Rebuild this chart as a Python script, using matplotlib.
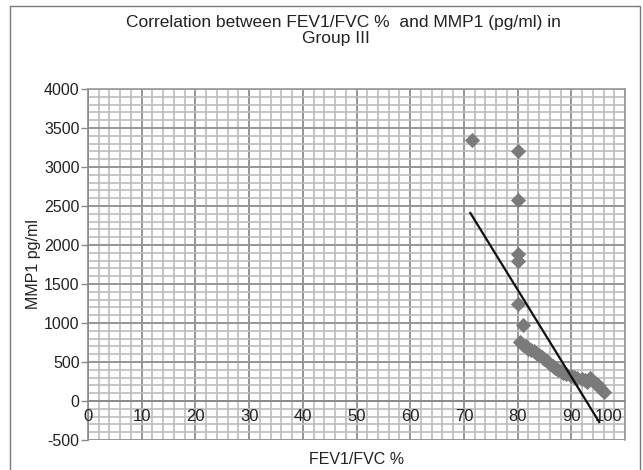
import matplotlib
matplotlib.use("Agg")
import matplotlib.pyplot as plt
from matplotlib.patches import Rectangle
from matplotlib.ticker import MultipleLocator
from matplotlib.transforms import offset_copy

plt.rcParams['font.family'] = ['Liberation Sans', 'DejaVu Sans']

# Data
fev = [71.5, 80, 80, 80, 80, 80, 81, 80.5, 81, 81.5, 82, 82.5, 83, 83.5, 84,
       84.5, 85, 85.5, 86, 86.5, 87, 87.5, 88, 88.5, 89, 90, 90.5, 91, 92,
       92.5, 93, 93.5, 94, 94.5, 95, 95.5, 96]
mmp = [3350, 3200, 2580, 1880, 1800, 1250, 980, 760, 720, 700, 670, 650, 640,
       610, 590, 570, 540, 510, 480, 450, 420, 400, 380, 360, 350, 320, 310,
       290, 280, 270, 250, 300, 260, 230, 200, 160, 120]
trend_x = [71.2, 95.2]
trend_y = [2410, -270]
x_ticks = [0, 10, 20, 30, 40, 50, 60, 70, 80, 90, 100]
y_ticks = [-500, 0, 500, 1000, 1500, 2000, 2500, 3000, 3500, 4000]

W, H = 643, 470
fig = plt.figure(figsize=(W / 100, H / 100), dpi=100)
fig.patch.set_facecolor('white')

# outer chart frame
fig.patches.append(Rectangle((10 / W, -0.02), 630 / W, (H - 6) / H + 0.02,
                             transform=fig.transFigure, fill=False,
                             edgecolor='#7a7a7a', linewidth=1.0))

left, right, top, bottom = 88 / W, 625 / W, 1 - 89 / H, 1 - 440 / H
ax = fig.add_axes([left, bottom, right - left, top - bottom])
ax.set_xlim(0, 100)
ax.set_ylim(-500, 4000)

ax.xaxis.set_major_locator(MultipleLocator(10))
ax.xaxis.set_minor_locator(MultipleLocator(2))
ax.yaxis.set_major_locator(MultipleLocator(500))
ax.yaxis.set_minor_locator(MultipleLocator(100))
ax.grid(which='minor', color='#bcbcbc', linewidth=1.2)
ax.grid(which='major', color='#969696', linewidth=1.4)
ax.set_axisbelow(True)

ax.scatter(fev, mmp, marker='D', s=60, color='#7a7a7a', zorder=3,
           linewidths=0)
ax.plot(trend_x, trend_y, color='#111111', linewidth=1.6, zorder=4)

# spines
ax.spines['bottom'].set_position(('data', 0))
ax.spines['bottom'].set_color('#8a8a8a')
ax.spines['left'].set_color('#8a8a8a')
ax.spines['top'].set_color('#9a9a9a')
ax.spines['right'].set_color('#9a9a9a')
for s in ax.spines.values():
    s.set_linewidth(1.2)

ax.set_yticks(y_ticks)
ax.set_yticklabels([str(v) for v in y_ticks])
ax.set_xticks(x_ticks)
ax.set_xticklabels([])
ax.tick_params(axis='y', which='major', length=5, width=1.0, color='#8a8a8a',
               labelsize=11.5, pad=1, labelcolor='#222222')
ax.tick_params(axis='x', which='major', length=0)
ax.tick_params(which='minor', length=0)

# x tick labels drawn on top of the grid, just under the zero line
lab_tr = offset_copy(ax.transData, fig=fig, x=0, y=-5.5, units='points')
for v in x_ticks:
    ha = 'right' if v == x_ticks[-1] else 'center'
    dx = -2 if v == x_ticks[-1] else 0
    ax.text(v, 0, str(v), ha=ha, va='top', fontsize=12, color='#222222',
            transform=offset_copy(lab_tr, fig=fig, x=dx, y=0, units='points'),
            zorder=6)

ax.set_ylabel('MMP1 pg/ml', fontsize=11.5, color='#222222', labelpad=2)
fig.text((88 + 625) / 2 / W, 1 - 459 / H, 'FEV1/FVC %', ha='center',
         va='center', fontsize=11.5, color='#222222')

fig.text(343 / W, 1 - 22 / H, 'Correlation between FEV1/FVC %  and MMP1 (pg/ml) in',
         ha='center', va='center', fontsize=12.5, color='#222222')
fig.text(336 / W, 1 - 38 / H, 'Group III', ha='center', va='center',
         fontsize=12.5, color='#222222')

fig.savefig('out.png', dpi=100)
